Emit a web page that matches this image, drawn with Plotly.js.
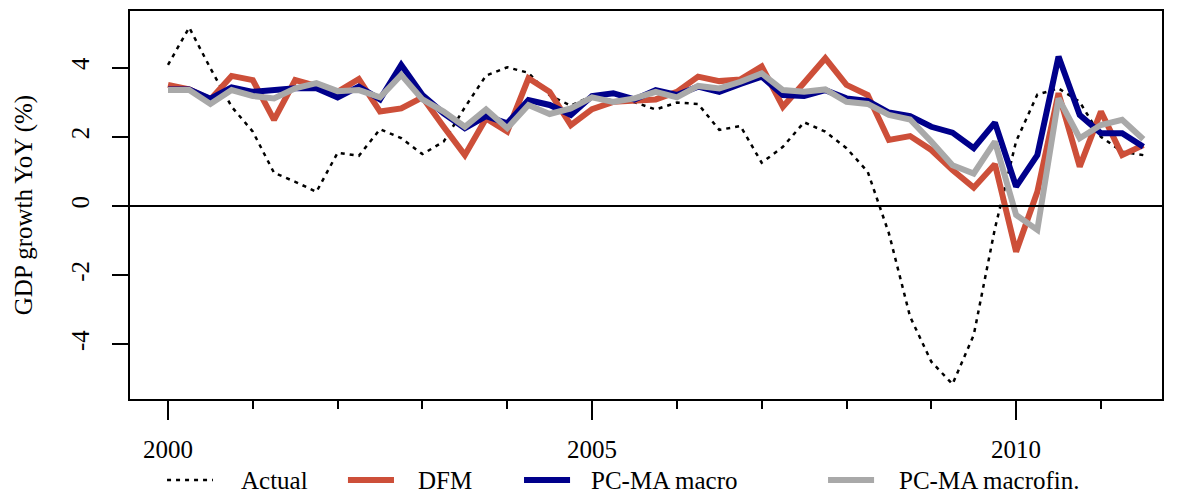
<!DOCTYPE html>
<html>
<head>
<meta charset="utf-8">
<script src="https://cdn.plot.ly/plotly-3.0.1.min.js"></script>
<style>
  html, body { margin: 0; padding: 0; background: #ffffff; }
  #chart { width: 1180px; height: 494px; }
</style>
</head>
<body>
<div id="chart"></div>
<script>
// Year-on-year GDP growth (%), quarterly 2000Q1-2011Q3, with three nowcast models
const startYear = 2000;

const actual = [
  4.08, 5.16, 3.98, 2.87, 2.15, 0.96, 0.70, 0.41, 1.54, 1.45,
  2.22, 1.96, 1.50, 1.86, 2.85, 3.77, 4.01, 3.85, 3.20, 2.90,
  3.18, 3.05, 3.00, 2.79, 2.99, 2.95, 2.20, 2.31, 1.25, 1.71,
  2.42, 2.15, 1.67, 0.99, -0.79, -3.20, -4.50, -5.15, -3.73, -0.65,
  1.87, 3.22, 3.40, 3.01, 2.00, 1.57, 1.47
];

const dfm = [
  3.50, 3.37, 3.08, 3.76, 3.64, 2.49, 3.64, 3.47, 3.30, 3.67,
  2.73, 2.82, 3.14, 2.29, 1.47, 2.53, 2.15, 3.69, 3.30, 2.34,
  2.80, 3.01, 3.04, 3.08, 3.30, 3.74, 3.61, 3.66, 4.03, 2.87,
  3.56, 4.27, 3.50, 3.21, 1.91, 2.02, 1.62, 1.04, 0.53, 1.21,
  -1.32, 0.41, 3.26, 1.14, 2.73, 1.47, 1.76
];

const pcmaMacro = [
  3.37, 3.37, 3.10, 3.43, 3.30, 3.35, 3.40, 3.40, 3.14, 3.45,
  3.08, 4.08, 3.21, 2.68, 2.25, 2.60, 2.39, 3.06, 2.92, 2.63,
  3.18, 3.26, 3.08, 3.35, 3.21, 3.45, 3.30, 3.53, 3.74, 3.21,
  3.18, 3.35, 3.11, 3.04, 2.70, 2.60, 2.29, 2.12, 1.67, 2.41,
  0.56, 1.47, 4.32, 2.63, 2.10, 2.10, 1.71
];

const pcmaMacrofin = [
  3.35, 3.35, 2.95, 3.35, 3.18, 3.11, 3.40, 3.55, 3.32, 3.35,
  3.14, 3.79, 3.08, 2.73, 2.29, 2.79, 2.25, 2.92, 2.66, 2.82,
  3.14, 3.01, 3.11, 3.30, 3.14, 3.47, 3.40, 3.59, 3.83, 3.35,
  3.30, 3.37, 3.01, 2.95, 2.63, 2.50, 1.86, 1.18, 0.94, 1.86,
  -0.26, -0.69, 3.11, 1.96, 2.34, 2.49, 1.93
];

const seriesNames = ['Actual', 'DFM', 'PC-MA macro', 'PC-MA macrofin.'];
const xTickVals = [2000, 2005, 2010];
const xTickText = ['2000', '2005', '2010'];
const yTickVals = [-4, -2, 0, 2, 4];
const yTickText = ['-4', '-2', '0', '2', '4'];
const yTitle = 'GDP growth YoY (%)';

// quarter index as decimal years
const time = actual.map((_, i) => startYear + i / 4);

const lineStyles = [
  { color: '#000000', width: 2.5, dash: '4px,5px' },
  { color: '#CD4F39', width: 6, dash: 'solid' },
  { color: '#00008B', width: 6, dash: 'solid' },
  { color: '#A9A9A9', width: 6, dash: 'solid' }
];

const seriesValues = [actual, dfm, pcmaMacro, pcmaMacrofin];

const traces = seriesValues.map((vals, i) => ({
  type: 'scatter',
  mode: 'lines',
  x: time,
  y: vals,
  name: seriesNames[i],
  line: Object.assign({ shape: 'linear' }, lineStyles[i]),
  showlegend: false,
  hoverinfo: 'x+y+name'
}));

const fontFamily = '"Liberation Serif", "Times New Roman", Times, serif';

// hand-drawn horizontal legend below the axis
const legendSample = [[0.0359, 0.0804], [0.2112, 0.2558], [0.3818, 0.4264], [0.6764, 0.7210]];
const legendTextX = [0.1056, 0.2771, 0.4448, 0.7432];
const legendY = -0.2088;

const shapes = [
  // reference line at zero, drawn over the series
  { type: 'line', xref: 'paper', x0: 0, x1: 1, yref: 'y', y0: 0, y1: 0,
    line: { color: '#000000', width: 2 }, layer: 'above' }
];
const annotations = [];
seriesNames.forEach((name, i) => {
  shapes.push({
    type: 'line', xref: 'paper', yref: 'paper',
    x0: legendSample[i][0], x1: legendSample[i][1], y0: legendY, y1: legendY,
    line: { color: lineStyles[i].color, width: lineStyles[i].width, dash: lineStyles[i].dash }
  });
  annotations.push({
    xref: 'paper', yref: 'paper', x: legendTextX[i], y: legendY,
    xanchor: 'left', yanchor: 'middle', showarrow: false,
    text: name, font: { family: fontFamily, size: 25, color: '#000000' }
  });
});

const layout = {
  width: 1180,
  height: 494,
  margin: { l: 130, r: 18, t: 11, b: 95, pad: 0 },
  paper_bgcolor: '#ffffff',
  plot_bgcolor: '#ffffff',
  font: { family: fontFamily, size: 25, color: '#000000' },
  showlegend: false,
  xaxis: {
    range: [1999.552, 2011.72],
    showgrid: false,
    zeroline: false,
    showline: true,
    mirror: true,
    linecolor: '#000000',
    linewidth: 2,
    ticks: 'outside',
    ticklen: 19,
    tickwidth: 2,
    tickcolor: '#000000',
    tickmode: 'array',
    tickvals: xTickVals,
    ticktext: xTickText,
    ticklabelstandoff: 8,
    tickfont: { family: fontFamily, size: 25, color: '#000000' },
    minor: { ticks: 'outside', ticklen: 8, tickwidth: 2, tickcolor: '#000000', tick0: 2000, dtick: 1, showgrid: false }
  },
  yaxis: {
    range: [-5.578, 5.636],
    showgrid: false,
    zeroline: false,
    showline: true,
    mirror: true,
    linecolor: '#000000',
    linewidth: 2,
    ticks: 'outside',
    ticklen: 16,
    tickwidth: 2,
    tickcolor: '#000000',
    tickmode: 'array',
    tickvals: yTickVals,
    ticktext: yTickText,
    tickangle: -90,
    ticklabelstandoff: 13,
    tickfont: { family: fontFamily, size: 25, color: '#000000' },
    automargin: false,
    title: { text: yTitle, standoff: 27, font: { family: fontFamily, size: 25, color: '#000000' } }
  },
  shapes: shapes,
  annotations: annotations
};

Plotly.newPlot('chart', traces, layout, { displayModeBar: false, staticPlot: true });
</script>
</body>
</html>
